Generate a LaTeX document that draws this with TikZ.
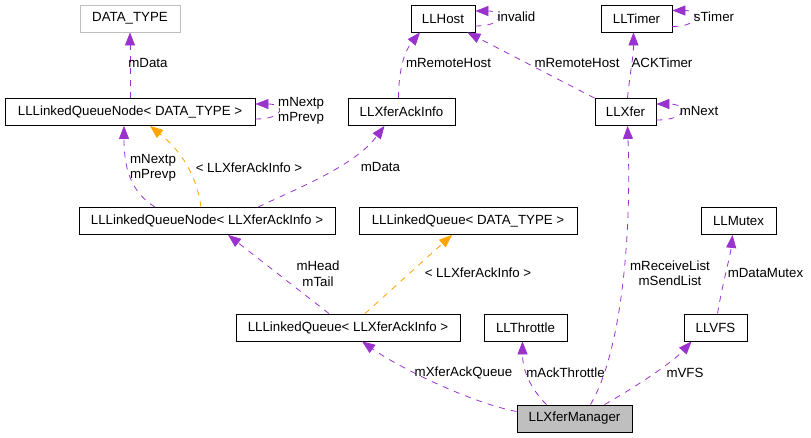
\documentclass[tikz,border=0pt]{standalone}
\usepackage{fontspec}
\setmainfont{Liberation Sans}
\usetikzlibrary{arrows.meta, calc}
\definecolor{refpurple}{HTML}{9A32CD}
\definecolor{tmplorange}{HTML}{FFA500}
\definecolor{boxgray}{HTML}{BFBFBF}

\begin{document}
\begin{tikzpicture}[x=1pt, y=-1pt,
    every node/.style={font=\fontsize{13.3}{15.5}\selectfont},
    cls/.style={draw=black, line width=0.8pt, minimum height=27pt, inner sep=0pt},
    ref/.style={refpurple, line width=0.8pt, dash pattern=on 6pt off 6pt,
        -{Triangle[length=13pt, width=10pt]}},
    tmpl/.style={ref, tmplorange},
    lbl/.style={inner sep=0pt, align=center}]

    \useasboundingbox (0,0) rectangle (811,437);

    % classes (top row)
    \node[cls, draw=boxgray, minimum width=100pt] (dtype) at (130,18.5) {DATA\_TYPE};
    \node[cls, minimum width=64pt] (host) at (443,18.5) {LLHost};
    \node[cls, minimum width=71pt] (timer) at (636.5,18.5) {LLTimer};

    % classes (second row)
    \node[cls, minimum width=250pt] (lqnT) at (130,112) {LLLinkedQueueNode< DATA\_TYPE >};
    \node[cls, minimum width=107pt] (ackinfo) at (401.5,112) {LLXferAckInfo};
    \node[cls, minimum width=61pt] (xfer) at (625.5,112) {LLXfer};

    % classes (third row)
    \node[cls, minimum width=256pt] (lqnA) at (207,221) {LLLinkedQueueNode< LLXferAckInfo >};
    \node[cls, minimum width=218pt] (lqT) at (468,221) {LLLinkedQueue< DATA\_TYPE >};
    \node[cls, minimum width=75pt] (mutex) at (738.5,221) {LLMutex};

    % classes (fourth row)
    \node[cls, minimum width=224pt] (lqA) at (348,327.5) {LLLinkedQueue< LLXferAckInfo >};
    \node[cls, minimum width=83pt] (throttle) at (525.5,327.5) {LLThrottle};
    \node[cls, minimum width=63pt] (vfs) at (715.5,327.5) {LLVFS};

    % the documented class
    \node[cls, fill=boxgray, minimum width=115pt] (mgr) at (574.5,418.5) {LLXferManager};

    % members of LLLinkedQueueNode< DATA_TYPE >
    \draw[ref] (lqnT.north) -- (dtype.south);
    \node[lbl] (lDataT) at (148,63) {mData};
    \draw[ref] ($(lqnT.east)+(0,7)$) .. controls +(30,0) and +(30,0) .. ($(lqnT.east)+(0,-8)$);
    \node[lbl, anchor=west, align=left] (lNextT) at (278,111) {mNextp\\mPrevp};

    % members of LLLinkedQueueNode< LLXferAckInfo >
    \draw[ref] ($(lqnA.north)+(-52,0)$) .. controls +(-20,-13) and +(0,50) .. ($(lqnT.south)+(-6,0)$);
    \node[lbl] (lNextA) at (153,168) {mNextp\\mPrevp};
    \draw[tmpl] ($(lqnA.north)+(-6,0)$) .. controls +(-5,-38) and +(25,20) .. ($(lqnT.south)+(20,0)$);
    \node[lbl] (lTmplN) at (249,168) {< LLXferAckInfo >};
    \draw[ref] ($(lqnA.north)+(51,0)$) .. controls +(42,-20) and +(-30,40) .. ($(ackinfo.south)+(-17,0)$);
    \node[lbl] (lDataA) at (380.5,167) {mData};

    % LLHost
    \draw[ref] ($(ackinfo.north)+(-3,0)$) .. controls +(0,-29) and +(-15,18) .. ($(host.south)+(-23,0)$);
    \node[lbl] (lHostA) at (448.5,63) {mRemoteHost};
    \draw[ref] ($(host.east)+(0,7.5)$) .. controls +(29,0) and +(29,0) .. ($(host.east)+(0,-7.5)$);
    \node[lbl] (lInvalid) at (516.5,17) {invalid};

    % LLXfer
    \draw[ref] (xfer.north west) -- ($(host.south east)+(-8,0)$);
    \node[lbl] (lHostX) at (577,63) {mRemoteHost};
    \draw[ref] ($(xfer.north)+(2,0)$) .. controls +(3,-30) and +(0,25) .. ($(timer.south)+(-3,0)$);
    \node[lbl] (lTimer) at (662,63) {ACKTimer};
    \draw[ref] ($(timer.east)+(0,8)$) .. controls +(28,0) and +(28,0) .. ($(timer.east)+(0,-8)$);
    \node[lbl] (lsTimer) at (714,17) {sTimer};
    \draw[ref] ($(xfer.east)+(0,8)$) .. controls +(32,0) and +(32,0) .. ($(xfer.east)+(0,-8)$);
    \node[lbl] (lNextX) at (699,111) {mNext};

    % LLLinkedQueue< LLXferAckInfo >
    \draw[ref] ($(lqA.north)+(-19,0)$) -- ($(lqnA.south)+(21,0)$);
    \node[lbl] (lHead) at (318,273.5) {mHead\\mTail};
    \draw[tmpl] ($(lqA.north)+(17,0)$) -- ($(lqT.south)+(-16,0)$);
    \node[lbl] (lTmplQ) at (478,273) {< LLXferAckInfo >};

    % LLVFS
    \draw[ref] ($(vfs.north)+(2,0)$) .. controls +(5,-30) and +(-2,20) .. ($(mutex.south)+(-6,0)$);
    \node[lbl] (lMutex) at (765.5,273) {mDataMutex};

    % members of LLXferManager
    \draw[ref] ($(mgr.west)+(0,-7)$) .. controls +(-47,-9) and +(35,25) .. ($(lqA.south)+(14,0)$);
    \node[lbl] (lAckQ) at (463.5,373) {mXferAckQueue};
    \draw[ref] ($(mgr.north)+(-28,0)$) .. controls +(-15,-15) and +(0,30) .. ($(throttle.south)+(-3,0)$);
    \node[lbl] (lThrottle) at (565.5,373) {mAckThrottle};
    \draw[ref] ($(mgr.north)+(16,0)$) .. controls +(32,-55) and +(4,105) .. ($(xfer.south)+(2,0)$);
    \node[lbl] (lLists) at (670,273) {mReceiveList\\mSendList};
    \draw[ref] ($(mgr.north)+(30,0)$) .. controls +(35,-20) and +(-18,20) .. ($(vfs.south)+(-24,0)$);
    \node[lbl] (lVFS) at (685,373) {mVFS};

\end{tikzpicture}
\end{document}
